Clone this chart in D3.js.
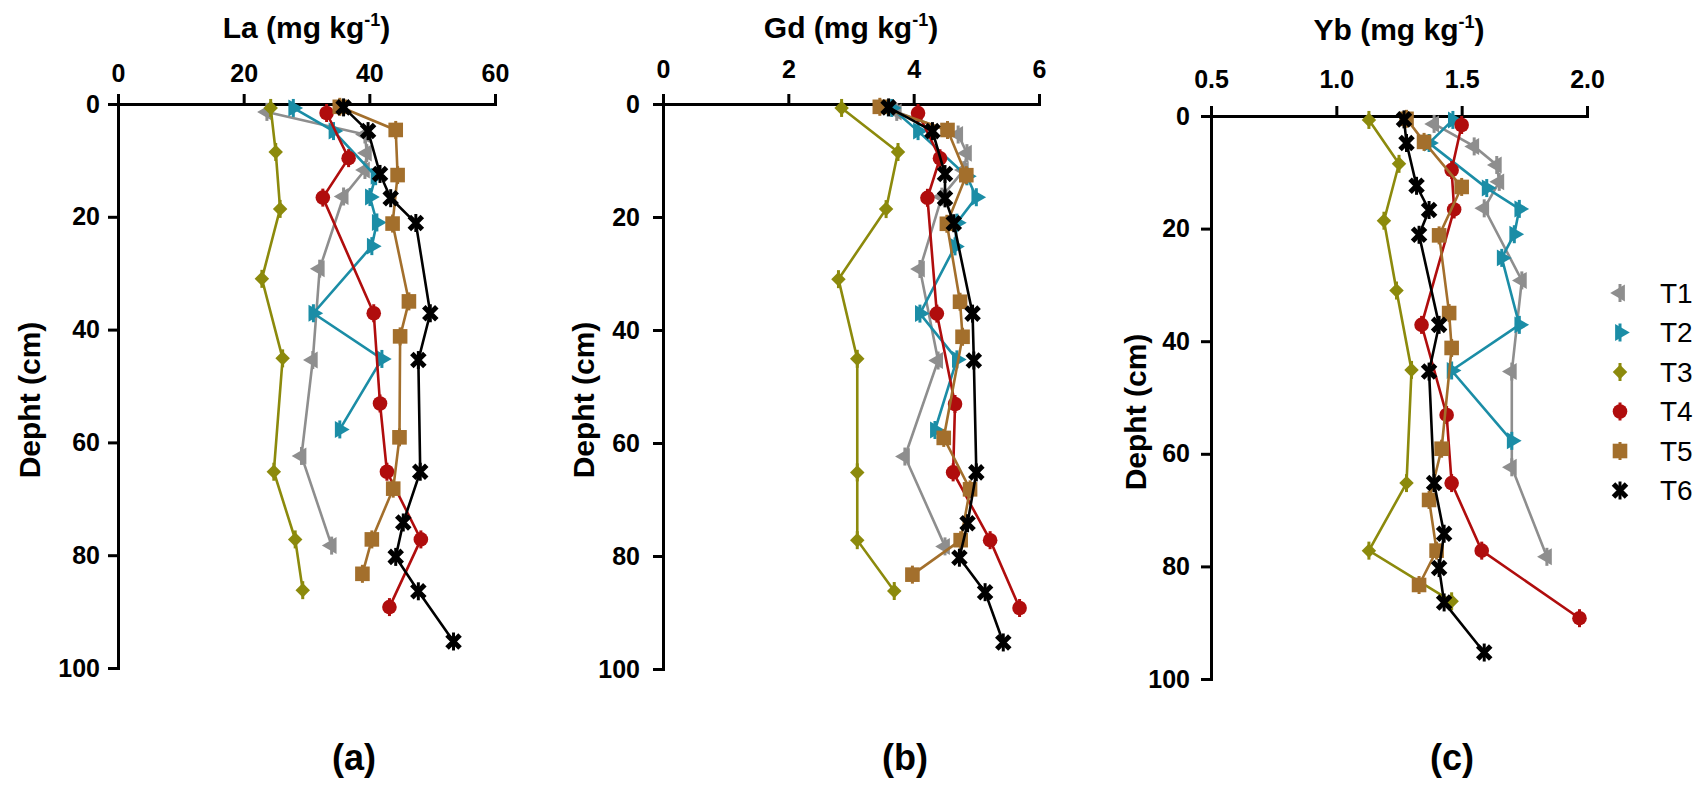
<!DOCTYPE html>
<html>
<head>
<meta charset="utf-8">
<script src="https://cdn.jsdelivr.net/npm/d3@7"></script>
<style>
  body { margin: 0; background: #fff; }
  svg { display: block; font-family: 'Liberation Sans', Arial, sans-serif; }
  .axis path, .axis line { stroke: #000; stroke-width: 3px; }
  .axis path { stroke-linecap: square; }
  .axis text { font-family: 'Liberation Sans', Arial, sans-serif; font-size: 25px; font-weight: bold; fill: #000; }
  .axis-title { font-size: 30px; font-weight: bold; }
  .panel-label { font-size: 36px; font-weight: bold; }
  .legend-text { font-size: 28px; }
</style>
</head>
<body>
<script>
// treatments, one row per series in every array below
const seriesNames = ['T1', 'T2', 'T3', 'T4', 'T5', 'T6'];

// sampling depth (cm) of every point, per treatment
const depthCm = [
  [1.4, 5.4, 8.7, 11.7, 16.4, 29.2, 45.4, 62.4, 78.3],
  [0.7, 4.8, 12.8, 16.5, 21, 25.2, 37.1, 45.2, 57.7],
  [0.7, 8.5, 18.6, 31, 45.1, 65.2, 77.2, 86.2],
  [1.6, 9.6, 16.6, 37.1, 53.1, 65.2, 77.2, 89.2],
  [0.5, 4.6, 12.6, 21.2, 35, 41.2, 59.1, 68.2, 77.2, 83.3],
  [0.6, 4.8, 12.4, 16.7, 21.1, 37.1, 45.4, 65.2, 74.2, 80.3, 86.4, 95.3]
];

// La (mg/kg)
const laValues = [
  [23.7, 39.3, 39.6, 39.3, 35.9, 32.1, 31.0, 29.2, 34.0],
  [27.9, 34.3, 41.0, 40.1, 41.2, 40.4, 31.1, 42.0, 35.3],
  [24.3, 25.1, 25.8, 22.9, 26.2, 24.8, 28.2, 29.4],
  [33.2, 36.7, 32.6, 40.7, 41.7, 42.8, 48.2, 43.2],
  [35.3, 44.2, 44.5, 43.7, 46.3, 44.9, 44.8, 43.8, 40.4, 38.9],
  [35.9, 39.8, 41.7, 43.4, 47.4, 49.7, 47.8, 48.1, 45.4, 44.2, 47.8, 53.4]
];

// Gd (mg/kg)
const gdValues = [
  [3.73, 4.71, 4.85, 4.80, 4.45, 4.10, 4.39, 3.86, 4.50],
  [3.65, 4.07, 4.85, 5.00, 4.69, 4.66, 4.10, 4.69, 4.34],
  [2.85, 3.75, 3.56, 2.80, 3.10, 3.10, 3.10, 3.69],
  [4.07, 4.42, 4.22, 4.37, 4.66, 4.63, 5.22, 5.69],
  [3.46, 4.54, 4.84, 4.53, 4.74, 4.78, 4.48, 4.90, 4.75, 3.98],
  [3.60, 4.30, 4.50, 4.50, 4.64, 4.94, 4.96, 5.00, 4.86, 4.73, 5.14, 5.43]
];

// Yb (mg/kg)
const ybValues = [
  [1.39, 1.55, 1.64, 1.65, 1.59, 1.74, 1.70, 1.70, 1.84],
  [1.465, 1.37, 1.60, 1.73, 1.71, 1.66, 1.73, 1.46, 1.70],
  [1.13, 1.25, 1.19, 1.24, 1.30, 1.28, 1.13, 1.46],
  [1.50, 1.46, 1.47, 1.34, 1.44, 1.46, 1.58, 1.97],
  [1.28, 1.35, 1.50, 1.41, 1.45, 1.46, 1.42, 1.37, 1.40, 1.33],
  [1.27, 1.28, 1.32, 1.37, 1.33, 1.41, 1.37, 1.39, 1.43, 1.41, 1.43, 1.59]
];

const laTicks = [0, 20, 40, 60];
const gdTicks = [0, 2, 4, 6];
const ybTicks = [0.5, 1.0, 1.5, 2.0];
const depthTicks = [0, 20, 40, 60, 80, 100];

const seriesColors = ['#8e8e8e', '#1b8da6', '#8c8a0c', '#b00d0d', '#a36f2c', '#000000'];

const width = 1706;
const height = 785;

const svg = d3.select('body')
  .append('svg')
  .attr('width', width)
  .attr('height', height);

const markerFor = (g, i, color) => {
  // small vertical bar (error bar) through every marker
  g.append('line')
    .attr('y1', -9).attr('y2', 9)
    .attr('stroke', color).attr('stroke-width', 3);
  if (i === 0 || i === 1) {
    g.append('path')
      .attr('d', d3.symbol(d3.symbolTriangle, 125)())
      .attr('transform', `rotate(${i === 0 ? -90 : 90})`)
      .attr('fill', color);
  } else if (i === 2) {
    g.append('path')
      .attr('d', d3.symbol(d3.symbolSquare, 105)())
      .attr('transform', 'rotate(45)')
      .attr('fill', color);
  } else if (i === 3) {
    g.append('circle').attr('r', 7.3).attr('fill', color);
  } else if (i === 4) {
    g.append('rect')
      .attr('x', -7.3).attr('y', -7.3)
      .attr('width', 14.6).attr('height', 14.6)
      .attr('fill', color);
  } else {
    g.append('path')
      .attr('d', 'M-6.5,-6.5L6.5,6.5M-6.5,6.5L6.5,-6.5')
      .attr('stroke', color).attr('stroke-width', 5)
      .attr('fill', 'none');
  }
};

const render = cfg => {
  const xScale = d3.scaleLinear().domain(cfg.domain).range([cfg.left, cfg.right]);
  const yScale = d3.scaleLinear().domain([0, 100]).range([cfg.top, cfg.bottom]);

  const xAxis = d3.axisTop(xScale)
    .tickValues(cfg.ticks)
    .tickFormat(cfg.format)
    .tickSizeInner(10)
    .tickSizeOuter(0)
    .tickPadding(cfg.xPad);
  const yAxis = d3.axisLeft(yScale)
    .tickValues(depthTicks)
    .tickSizeInner(10)
    .tickSizeOuter(0)
    .tickPadding(cfg.yPad);

  svg.append('g')
    .attr('class', 'axis')
    .attr('transform', `translate(0, ${cfg.top})`)
    .call(xAxis);

  svg.append('g')
    .attr('class', 'axis')
    .attr('transform', `translate(${cfg.left}, 0)`)
    .call(yAxis);

  const title = svg.append('text')
    .attr('class', 'axis-title')
    .attr('x', (cfg.left + cfg.right) / 2)
    .attr('y', cfg.titleY)
    .attr('text-anchor', 'middle');
  title.append('tspan').text(`${cfg.element} (mg kg`);
  title.append('tspan').attr('dy', -12).attr('font-size', 18).text('-1');
  title.append('tspan').attr('dy', 12).text(')');

  svg.append('text')
    .attr('class', 'axis-title')
    .attr('transform', `translate(${cfg.yTitleX}, ${cfg.yTitleY}) rotate(-90)`)
    .attr('text-anchor', 'middle')
    .text('Depht (cm)');

  svg.append('text')
    .attr('class', 'panel-label')
    .attr('x', cfg.labelX)
    .attr('y', 770)
    .attr('text-anchor', 'middle')
    .text(cfg.label);

  const line = d3.line()
    .x(d => xScale(d.value))
    .y(d => yScale(d.depth));

  seriesNames.forEach((name, i) => {
    const points = depthCm[i].map((depth, j) => ({ depth, value: cfg.values[i][j] }));
    const group = svg.append('g').attr('class', `series ${name}`);

    group.append('path')
      .datum(points)
      .attr('d', line)
      .attr('fill', 'none')
      .attr('stroke', seriesColors[i])
      .attr('stroke-width', 2.6);

    group.selectAll('g.marker').data(points)
      .enter().append('g')
      .attr('class', 'marker')
      .attr('transform', d => `translate(${xScale(d.value)}, ${yScale(d.depth)})`)
      .each(function () { markerFor(d3.select(this), i, seriesColors[i]); });
  });
};

render({ element: 'La', values: laValues, domain: [0, 60], ticks: laTicks, format: d3.format('d'),
  left: 118, right: 495, top: 104, bottom: 668, xPad: 12, yPad: 8,
  titleY: 38, yTitleX: 40, yTitleY: 400, label: '(a)', labelX: 354 });

render({ element: 'Gd', values: gdValues, domain: [0, 6], ticks: gdTicks, format: d3.format('d'),
  left: 663, right: 1039, top: 104, bottom: 669, xPad: 16, yPad: 13,
  titleY: 38, yTitleX: 594, yTitleY: 400, label: '(b)', labelX: 905 });

render({ element: 'Yb', values: ybValues, domain: [0.5, 2.0], ticks: ybTicks, format: d3.format('.1f'),
  left: 1211, right: 1587, top: 116, bottom: 679, xPad: 18, yPad: 11,
  titleY: 40, yTitleX: 1146, yTitleY: 412, label: '(c)', labelX: 1452 });

// legend
const legend = svg.append('g').attr('id', 'legend');
seriesNames.forEach((name, i) => {
  const rowY = 293 + i * 39.5;
  const mark = legend.append('g').attr('transform', `translate(1620, ${rowY})`);
  markerFor(mark, i, seriesColors[i]);
  legend.append('text')
    .attr('class', 'legend-text')
    .attr('x', 1660)
    .attr('y', rowY)
    .attr('dy', '0.35em')
    .text(name);
});
</script>
</body>
</html>
